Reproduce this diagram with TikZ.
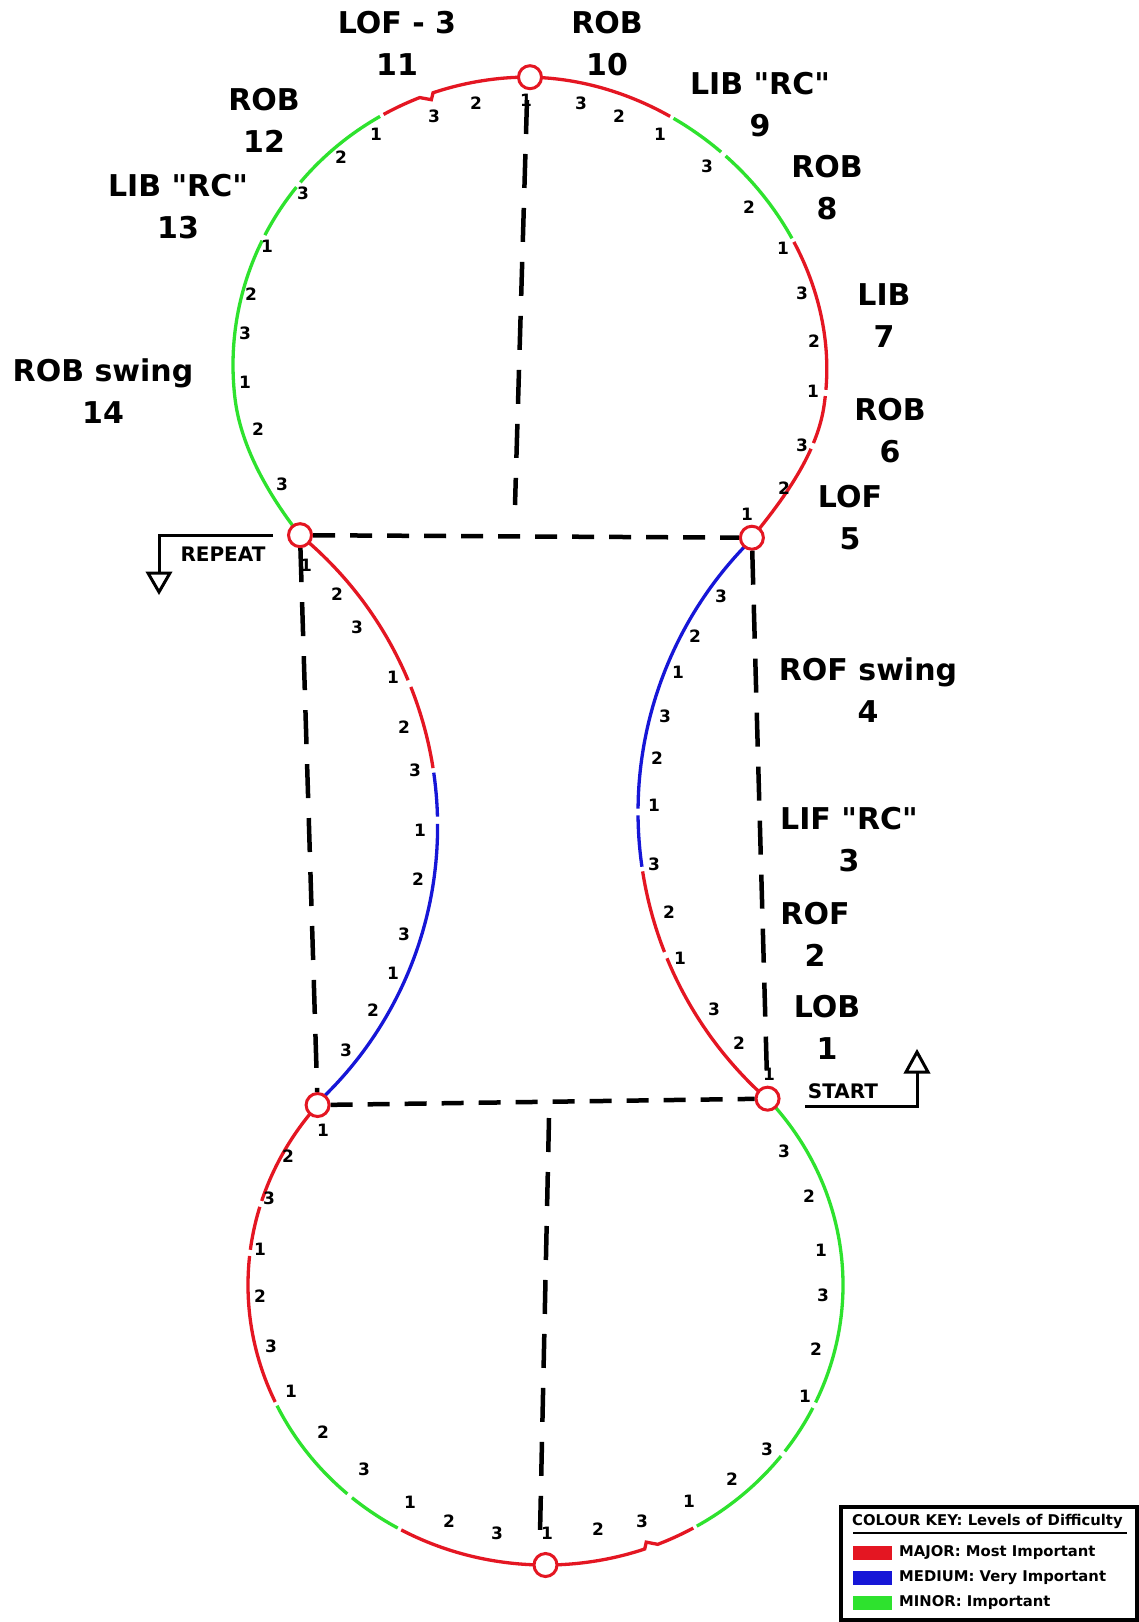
\documentclass[tikz,border=0pt]{standalone}
\usepackage{fontspec}
\setmainfont{DejaVu Sans}[Ligatures=TeXOff]
\definecolor{tred}{RGB}{228,22,34}
\definecolor{tblue}{RGB}{22,22,215}
\definecolor{tgreen}{RGB}{46,226,46}
\newcommand\segT[3]{\draw[track,#1] plot[domain=#2:#3,samples=36,smooth,variable=\t] ({530+rT(\t)*cos(\t)},{365+rT(\t)*sin(\t)});}
\newcommand\segB[3]{\draw[track,#1] plot[domain=#2:#3,samples=36,smooth,variable=\t] ({545.5+rB(\t)*cos(\t)},{1285+rB(\t)*sin(\t)});}
\newcommand\segL[3]{\draw[track,#1] plot[domain=#2:#3,samples=24,smooth,variable=\t] ({60.1+377.5*cos(\t)},{826.5+377.5*sin(\t)});}
\newcommand\segR[3]{\draw[track,#1] plot[domain=#2:#3,samples=24,smooth,variable=\t] ({1021.8+383.8*cos(\t)},{812+383.8*sin(\t)});}
\begin{document}
\begin{tikzpicture}[x=1pt,y=-1pt,
  declare function={
    bmp(\x)=max(0,1-(\x)*(\x))*max(0,1-(\x)*(\x));
    rT(\x)=297/sqrt(cos(\x)*cos(\x)+1.0635*sin(\x)*sin(\x))*(1-0.042*bmp((\x-398)/30)-0.026*bmp((\x-143.5)/30)-0.02*bmp((\x-315)/50));
    rB(\x)=297.5/sqrt(cos(\x)*cos(\x)+1.1289*sin(\x)*sin(\x));
  },
  track/.style={line width=3.3pt},
  stn/.style={circle,draw=tred,fill=white,line width=3pt,minimum size=23pt,inner sep=0pt},
  hdash/.style={line width=4.5pt,dash pattern=on 22pt off 15pt},
  vdash/.style={line width=4.5pt,dash pattern=on 34pt off 20pt},
  big/.style={font=\bfseries\fontsize{30}{42}\selectfont,align=center,inner sep=0pt},
  cnt/.style={font=\bfseries\fontsize{17}{17}\selectfont,inner sep=0pt},
  smallt/.style={font=\bfseries\fontsize{20}{20}\selectfont,inner sep=0pt},
  keyt/.style={font=\bfseries\fontsize{14.8}{15}\selectfont,inner sep=0pt,anchor=west},
  sw/.style={minimum width=39pt,minimum height=14pt,inner sep=0pt},
  sym/.style={line width=3pt,line join=miter}
]
\useasboundingbox (0,0) rectangle (1139,1622);
\fill[white] (0,0) rectangle (1139,1622);

% ---------- top loop ----------
\segT{tgreen}{143.5}{204.9}
\segT{tgreen}{206.1}{217.3}
\segT{tgreen}{218.5}{238.9}
\draw[track,tred,line join=miter] plot[domain=239.7:247.6,samples=10,smooth,variable=\t] ({530+rT(\t)*cos(\t)},{365+rT(\t)*sin(\t)})
  -- ({530+(rT(249.6)-6)*cos(249.6)},{365+(rT(249.6)-6)*sin(249.6)})
  -- plot[domain=250.4:299.4,samples=36,smooth,variable=\t] ({530+rT(\t)*cos(\t)},{365+rT(\t)*sin(\t)});
\segT{tgreen}{300.2}{311.9}
\segT{tgreen}{313.1}{334.2}
\segT{tred}{335.0}{364.8}
\segT{tred}{366.0}{375.4}
\segT{tred}{376.6}{397.9}

% ---------- bottom loop ----------
\segB{tgreen}{-40}{23.5}
\segB{tgreen}{24.7}{34.8}
\segB{tgreen}{36.0}{57.9}
\draw[track,tred,line join=miter] plot[domain=58.7:66.6,samples=10,smooth,variable=\t] ({545.5+rB(\t)*cos(\t)},{1285+rB(\t)*sin(\t)})
  -- ({545.5+(rB(68.6)-6)*cos(68.6)},{1285+(rB(68.6)-6)*sin(68.6)})
  -- plot[domain=69.4:120.5,samples=36,smooth,variable=\t] ({545.5+rB(\t)*cos(\t)},{1285+rB(\t)*sin(\t)});
\segB{tgreen}{121.3}{132.3}
\segB{tgreen}{133.5}{155.8}
\segB{tred}{156.6}{185.6}
\segB{tred}{186.8}{195.3}
\segB{tred}{196.5}{218.3}

% ---------- middle curves ----------
\segL{tred}{-50.5}{-22.8}
\segL{tred}{-21.7}{-8.9}
\segL{tblue}{-8.2}{-1.5}
\segL{tblue}{-0.4}{47.3}
\segR{tred}{131.6}{157.6}
\segR{tred}{158.6}{171.1}
\segR{tblue}{171.8}{179.5}
\segR{tblue}{180.5}{225.3}

% ---------- stations ----------
\node[stn] (sTop) at ({530+rT(270)*cos(270)},{365+rT(270)*sin(270)}) {};
\node[stn] (sRep) at ({530+rT(143.5)*cos(143.5)},{365+rT(143.5)*sin(143.5)}) {};
\node[stn] (sLof) at ({530+rT(397.9)*cos(397.9)},{365+rT(397.9)*sin(397.9)}) {};
\node[stn] (sBL) at ({545.5+rB(218.3)*cos(218.3)},{1285+rB(218.3)*sin(218.3)}) {};
\node[stn] (sStart) at ({545.5+rB(320)*cos(320)},{1285+rB(320)*sin(320)}) {};
\node[stn] (sBot) at ({545.5+rB(90)*cos(90)},{1285+rB(90)*sin(90)}) {};

% ---------- dashed axes ----------
\coordinate (tv1) at (527,100);
\coordinate (tv2) at (515,505);
\coordinate (bv1) at (549,1118);
\coordinate (bv2) at (540,1533);
\draw[hdash] (sRep) -- (sLof);
\draw[hdash] (sBL) -- (sStart);
\draw[vdash] (sRep) -- (sBL);
\draw[vdash] (sLof) -- (sStart);
\draw[vdash] (tv1) -- (tv2);
\draw[vdash] (bv1) -- (bv2);

% ---------- repeat / start symbols ----------
\coordinate (rp1) at (273,535);
\coordinate (rp2) at (159,535);
\coordinate (rp3) at (159,573);
\draw[sym] (rp1) -- (rp2) -- (rp3);
\draw[sym] (148,573) -- (170,573) -- (159,592) -- cycle;
\node[smallt] (trep) at (223,554) {REPEAT};
\coordinate (st1) at (805,1106);
\coordinate (st2) at (917,1106);
\coordinate (st3) at (917,1072);
\draw[sym] (st1) -- (st2) -- (st3);
\draw[sym] (906,1072) -- (928,1072) -- (917,1052) -- cycle;
\node[smallt] (tstart) at (843,1091) {START};

% ---------- big labels ----------
\node[big] (L11) at (397,43.5) {LOF - 3\\11};
\node[big] (L10) at (607,44) {ROB\\10};
\node[big] (L9) at (760,104.5) {LIB "RC"\\9};
\node[big] (L12) at (264,120.5) {ROB\\12};
\node[big] (L13) at (178,206.5) {LIB "RC"\\13};
\node[big] (L8) at (827,187.5) {ROB\\8};
\node[big] (L7) at (884,315.5) {LIB\\7};
\node[big] (L6) at (890,430.5) {ROB\\6};
\node[big] (L5) at (850,518) {LOF\\5};
\node[big] (L14) at (103,391.5) {ROB swing\\14};
\node[big] (L4) at (868,690) {ROF swing\\4};
\node[big] (L3) at (849,840) {LIF "RC"\\3};
\node[big] (L2) at (815,934.5) {ROF\\2};
\node[big] (L1) at (827,1027.5) {LOB\\1};

% ---------- counts ----------
\foreach \px/\py/\s [count=\i] in {
 747/514/1,784/488/2,802/445/3,813/391/1,814/341/2,802/293/3,783/248/1,749/207/2,
 707/166/3,660/134/1,619/116/2,581/103/3,526/100/1,476/103/2,434/116/3,376/134/1,
 341/157/2,303/193/3,267/246/1,251/294/2,245/333/3,245/382/1,258/429/2,282/484/3,
 306/565/1,337/594/2,357/627/3,393/677/1,404/727/2,415/770/3,420/830/1,418/879/2,
 404/934/3,393/973/1,373/1010/2,346/1050/3,
 721/596/3,695/636/2,678/672/1,665/716/3,657/758/2,654/805/1,654/864/3,669/912/2,
 680/958/1,714/1009/3,739/1043/2,769/1074/1,
 323/1130/1,288/1156/2,269/1198/3,260/1249/1,260/1296/2,271/1346/3,291/1391/1,323/1432/2,
 364/1469/3,410/1502/1,449/1521/2,497/1533/3,547/1533/1,598/1529/2,642/1521/3,689/1501/1,
 732/1479/2,767/1449/3,805/1396/1,816/1349/2,823/1295/3,821/1250/1,809/1196/2,784/1151/3}
 \node[cnt] (c\i) at (\px,\py) {\s};

% ---------- colour key ----------
\draw[line width=4pt,fill=white] (841,1507) rectangle (1137,1620);
\node[keyt] (kt) at (852,1521) {COLOUR KEY: Levels of Difficulty};
\coordinate (ku1) at (853,1533);
\coordinate (ku2) at (1127,1533);
\draw[line width=2pt] (ku1) -- (ku2);
\node[sw,fill=tred] (k1) at (872.5,1553) {};
\node[sw,fill=tblue] (k2) at (872.5,1578) {};
\node[sw,fill=tgreen] (k3) at (872.5,1603) {};
\node[keyt] (kt1) at (899,1553) {MAJOR: Most Important};
\node[keyt] (kt2) at (899,1578) {MEDIUM: Very Important};
\node[keyt] (kt3) at (899,1603) {MINOR: Important};
\end{tikzpicture}
\end{document}
